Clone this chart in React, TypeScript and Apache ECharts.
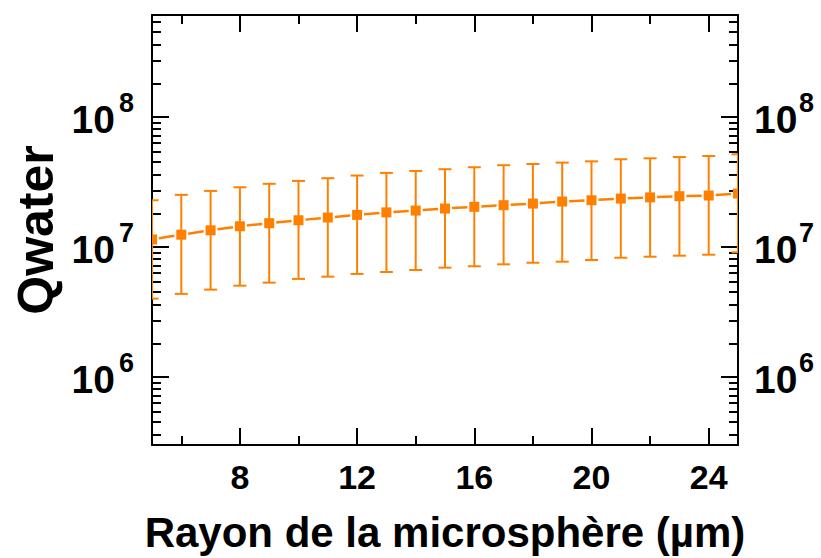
import React, { useEffect, useRef } from "react";
import * as echarts from "echarts";

// ---- data ----
const radius = [5, 6, 7, 8, 9, 10, 11, 12, 13, 14, 15, 16, 17, 18, 19, 20, 21, 22, 23, 24, 25];
const qMean = [1.14e7, 1.24e7, 1.34e7, 1.44e7, 1.52e7, 1.6e7, 1.68e7, 1.76e7, 1.84e7, 1.9e7, 1.97e7, 2.03e7, 2.09e7, 2.15e7, 2.23e7, 2.28e7, 2.35e7, 2.4e7, 2.45e7, 2.48e7, 2.57e7];
const qUpper = [2.28e7, 2.51e7, 2.69e7, 2.87e7, 3.05e7, 3.21e7, 3.37e7, 3.53e7, 3.7e7, 3.83e7, 3.95e7, 4.09e7, 4.24e7, 4.33e7, 4.44e7, 4.54e7, 4.71e7, 4.79e7, 4.9e7, 4.99e7, 5.14e7];
const qLower = [4.0e6, 4.35e6, 4.69e6, 5.03e6, 5.31e6, 5.67e6, 5.9e6, 6.19e6, 6.41e6, 6.64e6, 6.92e6, 7.09e6, 7.34e6, 7.55e6, 7.69e6, 7.92e6, 8.25e6, 8.4e6, 8.55e6, 8.7e6, 9.08e6];

const xMajorTicks = [8, 12, 16, 20, 24];
const xMinorTicks = [6, 10, 14, 18, 22];
const yMajorTicks = [1e6, 1e7, 1e8];
const yMinorMantissas = [1.8, 2.7, 3.6, 4.5, 5.4, 6.3, 7.2, 8.1, 9.0];
const yDecades = [1e5, 1e6, 1e7, 1e8];

const X_MIN = 5;
const X_MAX = 25;
const Y_MIN = 3.0e5;
const Y_MAX = 6.05e8;

const xTitle = "Rayon de la microsphère (µm)";
const yTitle = "Qwater";

const ORANGE = "#FF8000";
const FONT = "Liberation Sans, Arial, sans-serif";

export default function App() {
  const ref = useRef<HTMLDivElement>(null);

  useEffect(() => {
    if (!ref.current) return;
    const chart = echarts.init(ref.current, undefined, { renderer: "svg" });

    const yMinorTicks: number[] = [];
    yDecades.forEach((d) =>
      yMinorMantissas.forEach((m) => {
        const v = m * d;
        if (v >= Y_MIN && v <= Y_MAX) yMinorTicks.push(v);
      })
    );

    const lineStyle = { color: "#000", width: 2 };
    const textBase = { fontWeight: "bold", fontFamily: FONT, color: "#000" };

    const xAxisBase = (position: string, ticks: number[], len: number, showLine: boolean) => ({
      type: "value",
      position,
      min: X_MIN,
      max: X_MAX,
      axisLine: { show: showLine, lineStyle },
      axisTick: { show: true, inside: true, length: len, lineStyle, customValues: ticks },
      axisLabel: { show: false },
      splitLine: { show: false },
    });

    const yAxisBase = (position: string, ticks: number[] | null, len: number, showLine: boolean) => ({
      type: "log",
      logBase: 10,
      position,
      min: Y_MIN,
      max: Y_MAX,
      axisLine: { show: showLine, lineStyle },
      axisTick: ticks
        ? { show: true, inside: true, length: len, lineStyle, customValues: ticks }
        : { show: false },
      axisLabel: { show: false },
      splitLine: { show: false },
      minorTick: { show: false },
    });

    // "10" part of the labels
    const baseLabelAxis = (position: string, margin: number): any => {
      const a: any = yAxisBase(position, null, 0, false);
      a.axisLabel = {
        ...textBase,
        show: true,
        customValues: yMajorTicks,
        margin,
        fontSize: 39,
        verticalAlign: "top",
        lineHeight: 5,
        formatter: () => "10",
      };
      return a;
    };
    // exponent part of the labels
    const expLabelAxis = (position: string, margin: number): any => {
      const a: any = yAxisBase(position, null, 0, false);
      a.axisLabel = {
        ...textBase,
        show: true,
        customValues: yMajorTicks,
        margin,
        fontSize: 27,
        verticalAlign: "bottom",
        lineHeight: 28,
        formatter: (v: number) => String(Math.round(Math.log10(v))),
      };
      return a;
    };

    const xMain: any = xAxisBase("bottom", xMajorTicks, 17, true);
    xMain.axisLabel = {
      ...textBase,
      show: true,
      customValues: xMajorTicks,
      margin: 15,
      fontSize: 34,
    };
    xMain.name = xTitle;
    xMain.nameLocation = "middle";
    xMain.nameGap = 66;
    xMain.nameTextStyle = { ...textBase, fontSize: 42 };

    const yMain: any = yAxisBase("left", yMajorTicks, 17, true);
    yMain.name = yTitle;
    yMain.nameLocation = "middle";
    yMain.nameGap = 91;
    yMain.nameTextStyle = { ...textBase, fontSize: 50 };

    const errData = radius.map((r, i) => [r, qLower[i], qUpper[i], qMean[i]]);
    const segData = radius.slice(0, -1).map((r, i) => [r, qMean[i], radius[i + 1], qMean[i + 1]]);

    chart.setOption({
      animation: false,
      grid: { left: 152, right: 83, top: 15, bottom: 110, containLabel: false },
      xAxis: [
        xMain,
        xAxisBase("bottom", xMinorTicks, 9, false),
        xAxisBase("top", xMajorTicks, 17, true),
        xAxisBase("top", xMinorTicks, 9, false),
      ],
      yAxis: [
        yMain,
        yAxisBase("left", yMinorTicks, 9, false),
        yAxisBase("right", yMajorTicks, 17, true),
        yAxisBase("right", yMinorTicks, 9, false),
        baseLabelAxis("left", 37),
        expLabelAxis("left", 18),
        baseLabelAxis("right", 16),
        expLabelAxis("right", 61),
      ],
      series: [
        {
          type: "custom",
          xAxisIndex: 0,
          yAxisIndex: 0,
          clip: true,
          z: 2,
          data: segData,
          encode: { x: [0, 2], y: [1, 3] },
          renderItem: (params: any, api: any) => {
            const a = api.coord([api.value(0), api.value(1)]);
            const b = api.coord([api.value(2), api.value(3)]);
            const dx = b[0] - a[0];
            const dy = b[1] - a[1];
            const len = Math.sqrt(dx * dx + dy * dy);
            const gap = 7;
            const ux = dx / len;
            const uy = dy / len;
            return {
              type: "line",
              shape: {
                x1: a[0] + ux * gap,
                y1: a[1] + uy * gap,
                x2: b[0] - ux * gap,
                y2: b[1] - uy * gap,
              },
              style: { stroke: ORANGE, lineWidth: 2.5 },
            };
          },
        },
        {
          type: "custom",
          xAxisIndex: 0,
          yAxisIndex: 0,
          clip: true,
          z: 3,
          data: errData,
          encode: { x: 0, y: [1, 2, 3] },
          renderItem: (params: any, api: any) => {
            const x = api.value(0);
            const lo = api.coord([x, api.value(1)]);
            const hi = api.coord([x, api.value(2)]);
            const mid = api.coord([x, api.value(3)]);
            const cap = 6.5;
            const s = { stroke: ORANGE, lineWidth: 2 };
            return {
              type: "group",
              children: [
                { type: "line", shape: { x1: hi[0], y1: hi[1], x2: lo[0], y2: lo[1] }, style: s },
                { type: "line", shape: { x1: hi[0] - cap, y1: hi[1], x2: hi[0] + cap, y2: hi[1] }, style: s },
                { type: "line", shape: { x1: lo[0] - cap, y1: lo[1], x2: lo[0] + cap, y2: lo[1] }, style: s },
                {
                  type: "rect",
                  shape: { x: mid[0] - 5, y: mid[1] - 5, width: 10, height: 10 },
                  style: { fill: ORANGE },
                },
              ],
            };
          },
        },
      ],
    });

    return () => chart.dispose();
  }, []);

  return (
    <div
      ref={ref}
      style={{ position: "fixed", left: 0, top: 0, width: 821, height: 558, background: "#fff" }}
    />
  );
}
